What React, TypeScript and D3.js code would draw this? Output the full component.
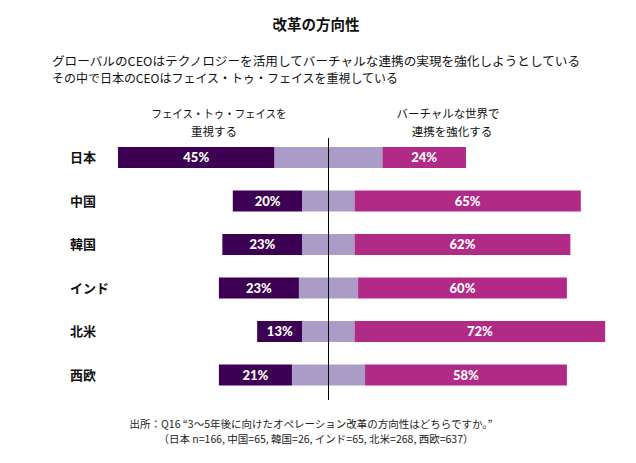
import React from "react";
import * as d3 from "d3";

const countries = ["日本", "中国", "韓国", "インド", "北米", "西欧"];
const faceToFace = [45, 20, 23, 23, 13, 21];
const neutral = [31, 15, 15, 17, 15, 21];
const virtual = [24, 65, 62, 60, 72, 58];

const title = "改革の方向性";
const subtitle1 = "グローバルのCEOはテクノロジーを活用してバーチャルな連携の実現を強化しようとしている";
const subtitle2 = "その中で日本のCEOはフェイス・トゥ・フェイスを重視している";
const leftHeader = ["フェイス・トゥ・フェイスを", "重視する"];
const rightHeader = ["バーチャルな世界で", "連携を強化する"];
const source1 = "出所：Q16 “3～5年後に向けたオペレーション改革の方向性はどちらですか。”";
const source2 = "（日本 n=166, 中国=65, 韓国=26, インド=65, 北米=268, 西欧=637）";

const W = 636;
const H = 463;
const C_DARK = "#3d0153";
const C_LIGHT = "#aa9cc7";
const C_PINK = "#b02a86";
const JP = "'Noto Sans CJK JP', 'Noto Sans', sans-serif";
const NUM = "Lato, 'Open Sans', sans-serif";

export default function App() {
  const x = d3.scaleLinear().domain([-61, 80]).range([328.5 - 61 * 3.48, 328.5 + 80 * 3.48]);
  const y = d3
    .scaleBand<string>()
    .domain(countries)
    .range([135.75, 396.75])
    .paddingInner(0.517)
    .paddingOuter(0.2585);
  const bw = y.bandwidth();

  return (
    <svg
      width={W}
      height={H}
      style={{ position: "absolute", left: 0, top: 0, background: "#fff" }}
      fontFamily={JP}
    >
      <rect width={W} height={H} fill="#fff" />
      <text x={316} y={30} textAnchor="middle" fontSize={14.5} fontWeight="bold" fill="#111">
        {title}
      </text>
      <text x={52} y={66} fontSize={12} fill="#111" textLength={528} lengthAdjust="spacingAndGlyphs">
        {subtitle1}
      </text>
      <text x={52} y={83} fontSize={12} fill="#111" textLength={346} lengthAdjust="spacingAndGlyphs">
        {subtitle2}
      </text>
      <text x={219} y={118} textAnchor="middle" fontSize={11.5} fill="#111" textLength={135} lengthAdjust="spacingAndGlyphs">
        {leftHeader[0]}
      </text>
      <text x={214} y={135.5} textAnchor="middle" fontSize={11.5} fill="#111">
        {leftHeader[1]}
      </text>
      <text x={448} y={118} textAnchor="middle" fontSize={11.5} fill="#111" textLength={103} lengthAdjust="spacingAndGlyphs">
        {rightHeader[0]}
      </text>
      <text x={452} y={135.5} textAnchor="middle" fontSize={11.5} fill="#111">
        {rightHeader[1]}
      </text>
      {countries.map((c, i) => {
        const n = neutral[i];
        const y0 = y(c)!;
        const a0 = x(-n / 2 - faceToFace[i]);
        const a1 = x(-n / 2);
        const b0 = x(n / 2);
        const b1 = x(n / 2 + virtual[i]);
        const cy = y0 + bw / 2;
        return (
          <g key={c}>
            <text x={70} y={cy} dy="0.35em" fontSize={13} fontWeight="bold" fill="#111">
              {c}
            </text>
            <rect x={a0} y={y0} width={a1 - a0} height={bw} fill={C_DARK} />
            <rect x={a1} y={y0} width={b0 - a1} height={bw} fill={C_LIGHT} />
            <rect x={b0} y={y0} width={b1 - b0} height={bw} fill={C_PINK} />
            <text
              x={(a0 + a1) / 2}
              y={cy}
              dy="0.36em"
              textAnchor="middle"
              fontFamily={NUM}
              fontWeight="900"
              fontSize={13}
              fill="#fff"
            >
              {faceToFace[i]}%
            </text>
            <text
              x={(b0 + b1) / 2}
              y={cy}
              dy="0.36em"
              textAnchor="middle"
              fontFamily={NUM}
              fontWeight="900"
              fontSize={13}
              fill="#fff"
            >
              {virtual[i]}%
            </text>
          </g>
        );
      })}
      <line x1={x(0)} x2={x(0)} y1={138} y2={400} stroke="#000" strokeWidth={1} />
      <text x={311} y={428} textAnchor="middle" fontSize={10.5} fill="#222">
        {source1}
      </text>
      <text x={316} y={443} textAnchor="middle" fontSize={10.5} fill="#222">
        {source2}
      </text>
    </svg>
  );
}
